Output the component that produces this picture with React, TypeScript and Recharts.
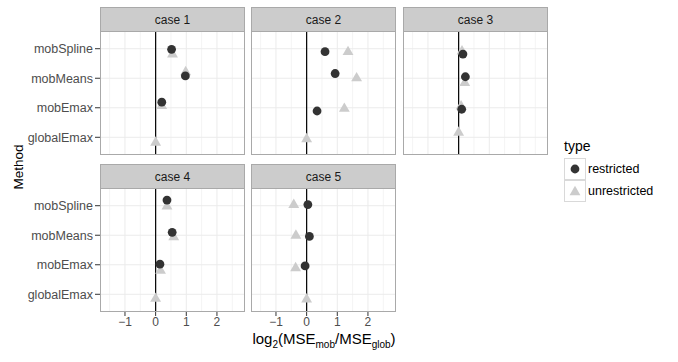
import React from 'react'
import { ScatterChart, Scatter, XAxis, YAxis, CartesianGrid } from 'recharts'

const METHODS = ['globalEmax', 'mobEmax', 'mobMeans', 'mobSpline']
const CASES = ['case 1', 'case 2', 'case 3', 'case 4', 'case 5']
const X_TICKS = [-1, 0, 1, 2]
const X_MINOR = [-1.5, -0.5, 0.5, 1.5, 2.5]
const Y_TICKS = [1, 2, 3, 4]

// log2(MSE_mob / MSE_glob); one row per case, columns follow METHODS
const restricted: (number | null)[][] = [
  [null, 0.2, 0.97, 0.52],
  [null, 0.34, 0.93, 0.6],
  [null, 0.1, 0.22, 0.14],
  [null, 0.14, 0.54, 0.37],
  [null, -0.05, 0.09, 0.04],
]
const unrestricted: (number | null)[][] = [
  [0, 0.2, 0.98, 0.55],
  [0, 1.23, 1.63, 1.35],
  [0, 0.08, 0.2, 0.11],
  [0, 0.16, 0.59, 0.37],
  [0, -0.36, -0.35, -0.42],
]
// vertical jitter of the points, in category units
const restrictedJitter = [
  [0, 0.19, 0.08, -0.02],
  [0, -0.11, 0.16, -0.1],
  [0, -0.05, 0.05, -0.18],
  [0, 0.02, 0.1, 0.19],
  [0, -0.04, -0.04, 0.04],
]
const unrestrictedJitter = [
  [-0.18, 0.06, 0.21, -0.19],
  [-0.06, -0.03, 0, -0.11],
  [0.16, 0.05, -0.16, -0.09],
  [-0.15, -0.2, -0.06, -0.02],
  [-0.17, -0.11, -0.01, 0.03],
]

const FONT = '"Liberation Sans", Arial, Helvetica, sans-serif'
const COL_LEFT = [100, 251, 403]
const ROW_TOP = [7, 164]
const PANEL_W = 145
const PANEL_H = 124
const STRIP_H = 24
const Y_AXIS_W = 100
const X_AXIS_H = 30

function points(xs: (number | null)[], jit: number[]) {
  const out: { x: number; y: number }[] = []
  xs.forEach((v, i) => {
    if (v !== null) out.push({ x: v, y: i + 1 + jit[i] })
  })
  return out
}

const Dot = (p: any) => <circle cx={p.cx} cy={p.cy} r={4.4} fill="#333333" />
const Tri = (p: any) => {
  const h = 9.4
  const w = h / Math.sqrt(3)
  return (
    <polygon
      points={`${p.cx},${p.cy - (2 * h) / 3} ${p.cx + w},${p.cy + h / 3} ${p.cx - w},${p.cy + h / 3}`}
      fill="#cccccc"
    />
  )
}

const fmtX = (v: number) => (v < 0 ? '\u2212' + Math.abs(v) : String(v))

function Panel({ idx }: { idx: number }) {
  const col = idx % 3
  const row = Math.floor(idx / 3)
  const showY = col === 0
  const showX = row === 1
  const left = COL_LEFT[col]
  const top = ROW_TOP[row]
  const chartLeft = showY ? left - Y_AXIS_W : left
  const w = PANEL_W + (showY ? Y_AXIS_W : 0)
  const h = PANEL_H + (showX ? X_AXIS_H : 0)
  return (
    <>
      <div
        style={{
          position: 'absolute',
          left,
          top,
          width: PANEL_W,
          height: STRIP_H,
          boxSizing: 'border-box',
          background: '#cccccc',
          border: '1px solid #a9a9a9',
          borderBottom: 'none',
          fontSize: 12,
          color: '#1a1a1a',
          textAlign: 'center',
          lineHeight: `${STRIP_H}px`,
        }}
      >
        {CASES[idx]}
      </div>
      <div style={{ position: 'absolute', left: chartLeft, top: top + STRIP_H }}>
        <ScatterChart width={w} height={h} margin={{ top: 0, right: 0, bottom: 0, left: 0 }}>
          <CartesianGrid
            verticalValues={X_MINOR}
            horizontal={false}
            stroke="#f4f4f4"
            strokeWidth={1}
          />
          <CartesianGrid
            verticalValues={X_TICKS}
            horizontalValues={Y_TICKS}
            stroke="#ebebeb"
            strokeWidth={1}
          />
          <CartesianGrid verticalValues={[0]} horizontal={false} stroke="#000000" strokeWidth={1.2} />
          <XAxis
            type="number"
            dataKey="x"
            domain={[-1.815, 2.915]}
            allowDataOverflow
            ticks={X_TICKS}
            interval={0}
            tickFormatter={fmtX}
            hide={!showX}
            height={X_AXIS_H}
            axisLine={false}
            tickSize={4}
            tickMargin={1}
            tickLine={{ stroke: '#333333' }}
            tick={{ fill: '#4d4d4d', fontSize: 12 }}
          />
          <YAxis
            type="number"
            dataKey="y"
            domain={[0.4, 4.6]}
            allowDataOverflow
            ticks={Y_TICKS}
            interval={0}
            tickFormatter={(v: number) => METHODS[v - 1]}
            hide={!showY}
            width={Y_AXIS_W}
            axisLine={false}
            tickSize={5}
            tickMargin={2}
            tickLine={{ stroke: '#333333' }}
            tick={{ fill: '#4d4d4d', fontSize: 12.5 }}
          />
          <Scatter
            data={points(unrestricted[idx], unrestrictedJitter[idx])}
            shape={Tri}
            isAnimationActive={false}
          />
          <Scatter
            data={points(restricted[idx], restrictedJitter[idx])}
            shape={Dot}
            isAnimationActive={false}
          />
        </ScatterChart>
      </div>
      <div
        style={{
          position: 'absolute',
          left,
          top: top + STRIP_H,
          width: PANEL_W,
          height: PANEL_H,
          boxSizing: 'border-box',
          border: '1px solid #a9a9a9',
          pointerEvents: 'none',
        }}
      />
    </>
  )
}

export default function App() {
  return (
    <div
      style={{
        position: 'absolute',
        left: 0,
        top: 0,
        width: 678,
        height: 362,
        background: '#ffffff',
        fontFamily: FONT,
        overflow: 'hidden',
      }}
    >
      {CASES.map((c, i) => (
        <Panel key={c} idx={i} />
      ))}
      <div
        style={{
          position: 'absolute',
          left: 17.5,
          top: 167,
          transform: 'translate(-50%, -50%) rotate(-90deg)',
          fontSize: 13.5,
          color: '#000',
          whiteSpace: 'nowrap',
        }}
      >
        Method
      </div>
      <div
        style={{
          position: 'absolute',
          left: 324,
          top: 340,
          transform: 'translate(-50%, -50%)',
          fontSize: 15,
          color: '#000',
          whiteSpace: 'nowrap',
        }}
      >
        log<sub style={{ fontSize: 10 }}>2</sub>(MSE<sub style={{ fontSize: 10 }}>mob</sub>/MSE
        <sub style={{ fontSize: 10 }}>glob</sub>)
      </div>
      <div style={{ position: 'absolute', left: 564, top: 138, fontSize: 14, color: '#000' }}>type</div>
      {['restricted', 'unrestricted'].map((t, i) => (
        <React.Fragment key={t}>
          <svg
            width={22}
            height={22}
            style={{ position: 'absolute', left: 564, top: 158 + i * 22 }}
          >
            <rect x={0.5} y={0.5} width={21} height={21} fill="#fff" stroke="#d9d9d9" />
            {i === 0 ? Dot({ cx: 11, cy: 11 }) : Tri({ cx: 11, cy: 12 })}
          </svg>
          <div
            style={{
              position: 'absolute',
              left: 588,
              top: 158 + i * 22,
              lineHeight: '22px',
              fontSize: 12.5,
              color: '#000',
            }}
          >
            {t}
          </div>
        </React.Fragment>
      ))}
    </div>
  )
}
